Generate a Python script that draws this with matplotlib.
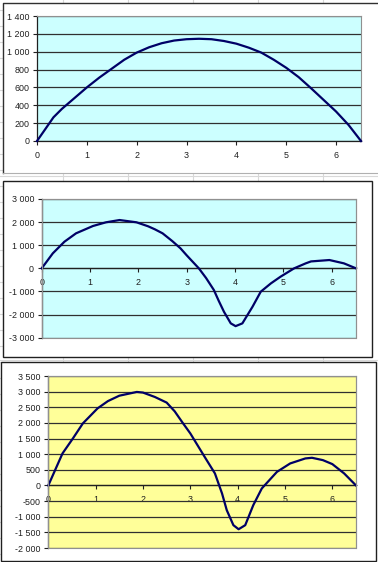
import matplotlib.pyplot as plt
from matplotlib.patches import Rectangle
from matplotlib.lines import Line2D
from matplotlib.ticker import FuncFormatter, MultipleLocator

# -------------------------------------
# Data
# -------------------------------------

x1 = [0, 0.15, 0.33, 0.5, 0.75, 1.0, 1.25, 1.5, 1.75, 2.0, 2.25, 2.5, 2.75,
      3.0, 3.25, 3.5, 3.75, 4.0, 4.25, 4.5, 4.75, 5.0, 5.25, 5.5, 5.75,
      6.0, 6.25, 6.5]
y1 = [0, 120, 265, 360, 480, 600, 710, 810, 910, 990, 1050, 1095, 1125,
      1140, 1145, 1140, 1120, 1090, 1045, 990, 910, 820, 715, 590, 460,
      330, 180, 0]

x2 = [0, 0.23, 0.47, 0.71, 1.06, 1.33, 1.61, 1.96, 2.2, 2.34, 2.5, 2.7,
      2.87, 3.0, 3.25, 3.4, 3.56, 3.66, 3.77, 3.91, 4.01, 4.15, 4.36, 4.53,
      4.74, 4.94, 5.22, 5.46, 5.57, 5.95, 6.25, 6.5]
y2 = [0, 650, 1152, 1515, 1832, 1992, 2090, 1992, 1820, 1689, 1515, 1180,
      866, 560, 0, -420, -935, -1400, -1880, -2380, -2500, -2380, -1660,
      -1010, -650, -360, 0, 216, 300, 360, 216, 0]

x3 = [0, 0.30, 0.52, 0.73, 1.04, 1.26, 1.5, 1.87, 2.0, 2.25, 2.5, 2.67,
      2.84, 3.0, 3.28, 3.52, 3.67, 3.77, 3.91, 4.02, 4.16, 4.33, 4.51,
      4.83, 5.11, 5.43, 5.57, 5.8, 6.0, 6.25, 6.5]
y3 = [0, 1024, 1504, 1984, 2464, 2698, 2870, 2990, 2970, 2830, 2650, 2370,
      2000, 1664, 970, 384, -256, -790, -1270, -1400, -1270, -630, -96,
      435, 704, 864, 885, 810, 683, 384, 0]

CHARTS = [
    # x, y, ylim, ystep, face, plot box (px: left, top, right, bottom)
    (x1, y1, (0, 1400), 200, "#ccffff", (37, 16, 361, 141)),
    (x2, y2, (-3000, 3000), 1000, "#ccffff", (41.7, 199, 356, 337.7)),
    (x3, y3, (-2000, 3500), 500, "#ffff99", (48.3, 376, 356, 548)),
]

W, H = 378, 562

# -------------------------------------
# Plotting
# -------------------------------------

plt.rcParams["font.family"] = ["Liberation Sans", "DejaVu Sans"]

fig = plt.figure(figsize=(W / 100, H / 100), dpi=100)
fig.patch.set_facecolor("white")


def fx(px):
    return px / W


def fy(py):
    return (H - py) / H


# faint spreadsheet cell lines behind the charts
for cx in [63, 128, 193, 258, 323]:
    fig.add_artist(Line2D([fx(cx), fx(cx)], [0, 1], color="#d8d8d8",
                          lw=0.8, zorder=-3))
for ry in [175.5, 359.5]:
    fig.add_artist(Line2D([0, 1], [fy(ry), fy(ry)], color="#d8d8d8",
                          lw=0.8, zorder=-3))
for ry in range(10, H, 16):
    fig.add_artist(Line2D([0, fx(2.5)], [fy(ry), fy(ry)], color="#d8d8d8",
                          lw=0.8, zorder=-3))

# chart area frames
fig.add_artist(Rectangle((fx(3), fy(173)), fx(400) - fx(3), fy(3) - fy(173),
                         facecolor="white", edgecolor="none", zorder=-2))
fig.add_artist(Line2D([fx(3), fx(3), 1], [fy(173), fy(3), fy(3)],
                      color="#303030", lw=1, zorder=-1))
fig.add_artist(Line2D([fx(3), 1], [fy(173), fy(173)],
                      color="#b0b0b0", lw=0.8, zorder=-1))
for (l, t, r, b) in [(3, 181, 372, 357), (1, 362, 376, 561)]:
    fig.add_artist(Rectangle((fx(l), fy(b)), fx(r) - fx(l), fy(t) - fy(b),
                             facecolor="white", edgecolor="#202020",
                             lw=1.0, zorder=-2))

fmt = FuncFormatter(lambda v, pos: f"{v:,.0f}".replace(",", " "))

for i, (xs, ys, ylim, ystep, face, box) in enumerate(CHARTS):
    l, t, r, b = box
    ax = fig.add_axes([fx(l), fy(b), fx(r) - fx(l), fy(t) - fy(b)])
    ax.set_facecolor(face)
    ax.plot(xs, ys, color="#000066", lw=1.6, zorder=3, clip_on=False,
            solid_joinstyle="round")
    ax.set_xlim(0, 6.5)
    ax.set_ylim(*ylim)
    ax.xaxis.set_major_locator(MultipleLocator(1))
    ax.yaxis.set_major_locator(MultipleLocator(ystep))
    ax.yaxis.set_major_formatter(fmt)
    ax.grid(axis="y", color="#303030", lw=0.9)
    ax.set_axisbelow(True)

    for side in ["top", "right"]:
        ax.spines[side].set_color("#909090")
        ax.spines[side].set_linewidth(0.8)
    ax.spines["left"].set_color("#202020")
    ax.spines["left"].set_linewidth(0.9)
    ax.spines["bottom"].set_color("#202020")
    ax.spines["bottom"].set_linewidth(0.9)
    if i > 0:
        ax.spines["bottom"].set_position(("data", 0))
        ax.add_patch(Rectangle((0, 0), 1, 1, transform=ax.transAxes,
                               fill=False, edgecolor="#909090", lw=0.8,
                               zorder=4, clip_on=False))

    ax.tick_params(axis="both", direction="out", length=3, width=0.8,
                   labelsize=6.4, colors="#202020", pad=2.5)
    ax.tick_params(axis="x", pad=4)

fig.savefig("out.png", dpi=100, facecolor="white")
